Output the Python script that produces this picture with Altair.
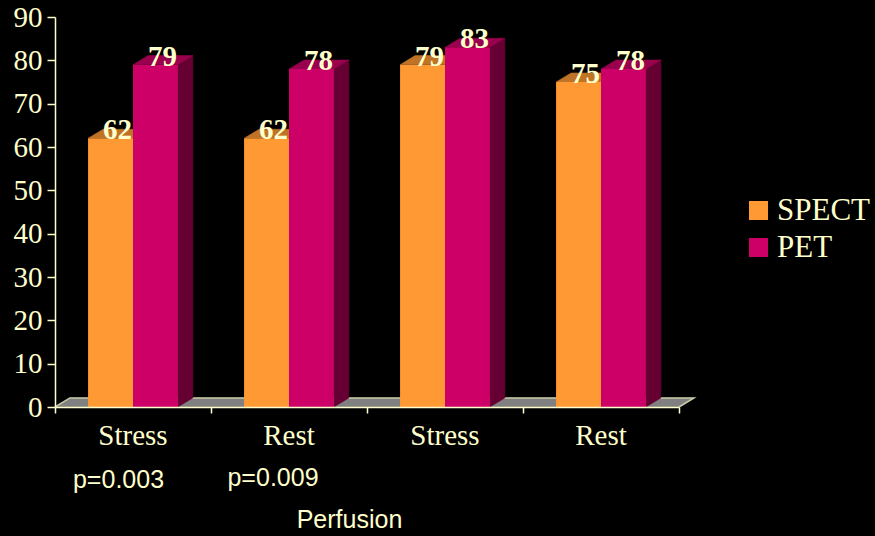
import altair as alt
import pandas as pd

# Chart values
categories = ["Stress", "Rest", "Stress", "Rest"]
spect = [62, 62, 79, 75]
pet = [79, 78, 83, 78]
p_values = ["p=0.003", "p=0.009"]
ticks_y = list(range(0, 100, 10))

CREAM = "#FFFFCC"
SERIF = "Liberation Serif"
SANS = "Liberation Sans"
series_colors = {"SPECT": "#FF9933", "PET": "#CC0066"}
top_colors = {"SPECT": "#BF7326", "PET": "#99004D"}
side_colors = {"SPECT": "#7F4C19", "PET": "#660033"}

# Extrusion of the pseudo-3D bars, in data units
DEPTH_X = 0.096
DEPTH_Y = 2.1
BAR_W = 0.288

x_scale = alt.Scale(domain=[0, 4], nice=False, zero=False)
y_scale = alt.Scale(domain=[0, 90], nice=False)

x_axis = alt.Axis(
    values=[0, 1, 2, 3, 4], labels=False, grid=False, tickSize=6, tickColor=CREAM,
    tickWidth=1.5, domainColor=CREAM, domainWidth=1.5, title="Perfusion", titleFont=SANS,
    titleFontSize=25, titleFontWeight="normal", titleColor=CREAM, titleX=294, titleY=120,
    titleBaseline="alphabetic", zindex=1)
y_axis = alt.Axis(
    values=ticks_y, grid=False, tickSize=8, tickColor=CREAM, tickWidth=1.5,
    domainColor=CREAM, domainWidth=1.5, labelColor=CREAM, labelFont=SERIF, labelFontSize=29,
    labelPadding=5, title=None, zindex=1)

X = alt.X("x:Q", scale=x_scale, axis=x_axis)
Y = alt.Y("y:Q", scale=y_scale, axis=y_axis)


def quad(key, points):
    """Vertices of one closed face, in drawing order."""
    return [dict(id=key, x=px, y=py, o=n) for n, (px, py) in enumerate(points)]


def face_layer(rows, color):
    """Filled polygons drawn as ordered paths in data space."""
    return alt.Chart(pd.DataFrame(rows)).mark_line(
        fill=color, stroke=color, strokeWidth=0.5, strokeCap="butt"
    ).encode(x=X, y=Y, detail="id:N", order="o:Q")


# Floor slab and its outline
floor_rows = quad("floor", [(0, 0), (DEPTH_X, DEPTH_Y), (4 + DEPTH_X, DEPTH_Y), (4, 0)])
floor_layer = face_layer(floor_rows, "#808080")
edge_layer = alt.Chart(pd.DataFrame(floor_rows)).mark_line(
    color="#C8C8A4", strokeWidth=1.5
).encode(x=X, y=Y, order="o:Q")

# One row per bar, plus the polygon outlines of its top and side faces
front_rows = []
faces = {"SPECT": ([], []), "PET": ([], [])}
for s, vals, lo in (("SPECT", spect, -1), ("PET", pet, 0)):
    for i, v in enumerate(vals):
        left = i + 0.5 + lo * BAR_W
        right = left + BAR_W
        key = f"{s}{i}"
        front_rows.append(dict(series=s, x=left, x2=right, v=v, zero=0,
                               mid=(left + right) / 2, label=str(v)))
        faces[s][0].extend(quad(key, [(right, 0), (right + DEPTH_X, DEPTH_Y),
                                      (right + DEPTH_X, v + DEPTH_Y), (right, v)]))
        faces[s][1].extend(quad(key, [(left, v), (left + DEPTH_X, v + DEPTH_Y),
                                      (right + DEPTH_X, v + DEPTH_Y), (right, v)]))
front = pd.DataFrame(front_rows)


def bars(series):
    """Side, top and front faces of one series."""
    side_rows, top_rows = faces[series]
    s_front = alt.Chart(front[front.series == series]).mark_rect().encode(
        x=X, x2="x2:Q",
        y=alt.Y("v:Q", scale=y_scale, axis=y_axis), y2="zero:Q",
        color=alt.Color("series:N",
                        scale=alt.Scale(domain=list(series_colors), range=list(series_colors.values())),
                        legend=alt.Legend(
                            orient="none", legendX=688, legendY=178, title=None,
                            symbolType="square", symbolSize=361, symbolStrokeWidth=0,
                            symbolOpacity=1, labelColor=CREAM, labelFont=SERIF, labelFontSize=31,
                            labelOffset=3, rowPadding=5)),
    )
    return face_layer(side_rows, side_colors[series]) + face_layer(top_rows, top_colors[series]) + s_front


value_labels = alt.Chart(front).mark_text(
    font=SERIF, fontSize=29, fontWeight="bold", color=CREAM, baseline="alphabetic", dx=7, dy=1
).encode(x=alt.X("mid:Q", scale=x_scale, axis=x_axis),
         y=alt.Y("v:Q", scale=y_scale, axis=y_axis), text="label:N")

cat_df = pd.DataFrame({"x": [i + 0.5 for i in range(len(categories))], "y": 0, "t": categories})
cat_labels = alt.Chart(cat_df).mark_text(
    font=SERIF, fontSize=29, color=CREAM, baseline="alphabetic", dy=38
).encode(x=X, y=Y, text="t:N")

# The two p-value captions sit at slightly different offsets under their groups
p_layers = []
for i, (text, dx, dy) in enumerate(zip(p_values, (-14.5, -16), (81, 79))):
    p_df = pd.DataFrame({"x": [i + 0.5], "y": [0], "t": [text]})
    p_layers.append(alt.Chart(p_df).mark_text(
        font=SANS, fontSize=25, color=CREAM, baseline="alphabetic", dx=dx, dy=dy
    ).encode(x=X, y=Y, text="t:N"))

chart = alt.layer(
    floor_layer, edge_layer,
    bars("SPECT"), bars("PET"),
    value_labels, cat_labels, *p_layers,
).properties(
    width=624, height=390, background="#000000",
    padding={"left": 55, "top": 17, "right": 196, "bottom": 129},
    autosize=alt.AutoSizeParams(type="none"),
).configure_view(stroke=None)

chart.save("out.html", embed_options={"renderer": "svg", "actions": False})
